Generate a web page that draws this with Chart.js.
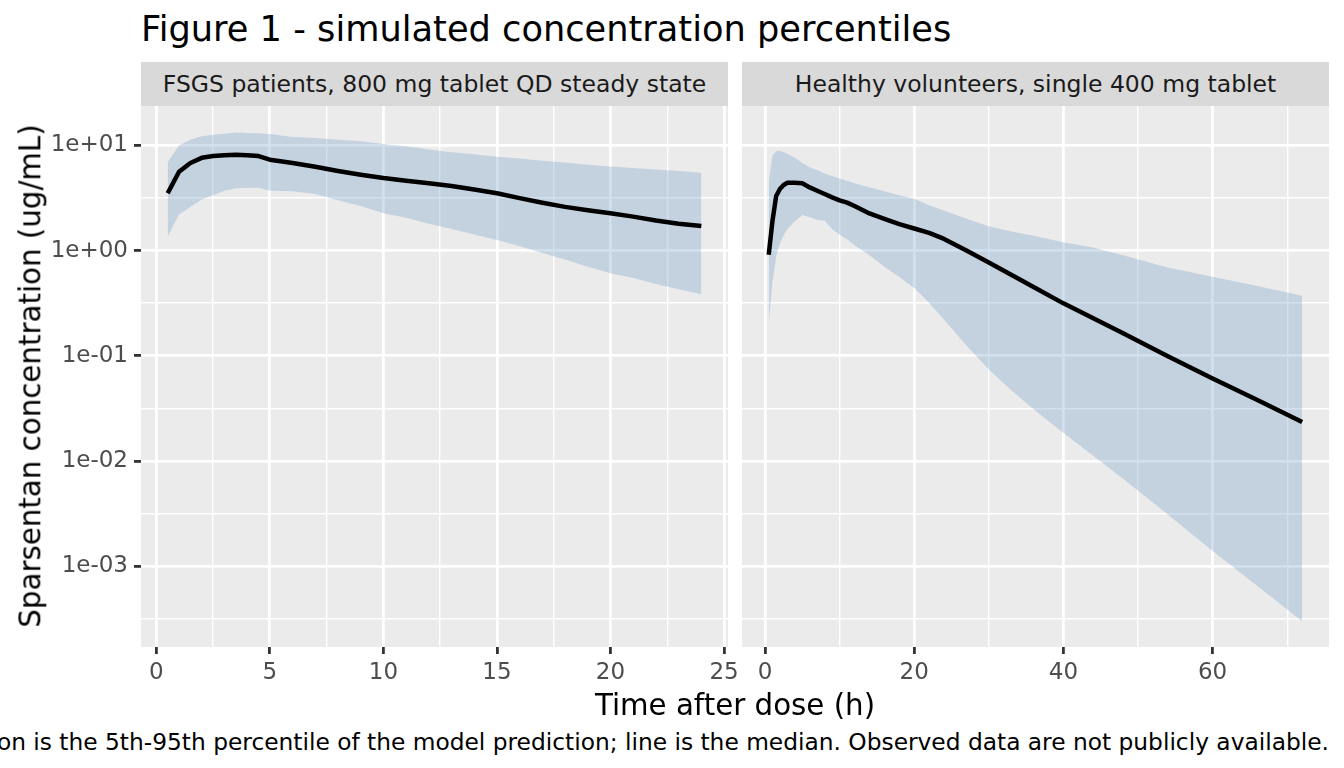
<!DOCTYPE html>
<html>
<head>
<meta charset="utf-8">
<script src="https://cdn.jsdelivr.net/npm/chart.js@4.4.1/dist/chart.umd.min.js"></script>
<style>
  body {
    margin: 0;
    width: 1344px;
    height: 768px;
    overflow: hidden;
    position: relative;
    background: #ffffff;
    font-family: "DejaVu Sans", sans-serif;
  }
  .abs { position: absolute; white-space: nowrap; }
  .panel { position: absolute; top: 106px; height: 600px; }
  #title { left: 141px; top: 11px; font-size: 35.2px; line-height: 35.2px; color: #000; }
  .strip {
    top: 62px; height: 44px; line-height: 44px;
    background: #d9d9d9; color: #1a1a1a;
    font-size: 23.5px; text-align: center;
  }
  #ytitle {
    left: 31px; top: 376px; font-size: 29.3px; line-height: 29.3px;
    transform: translate(-50%, -50%) rotate(-90deg);
  }
  #xtitle {
    left: 141px; width: 1188px; top: 691px; text-align: center;
    font-size: 29.3px; line-height: 29.3px;
  }
  #caption {
    right: 15px; top: 730px; text-align: right;
    font-size: 23.32px; line-height: 23.32px;
  }
</style>
</head>
<body>
<div class="panel" style="left:0;width:742px"><canvas id="fsgs" width="742" height="600"></canvas></div>
<div class="panel" style="left:742px;width:587px"><canvas id="healthy" width="587" height="600"></canvas></div>

<div id="title" class="abs">Figure 1 - simulated concentration percentiles</div>
<div class="abs strip" style="left:141px;width:587px">FSGS patients, 800 mg tablet QD steady state</div>
<div class="abs strip" style="left:742px;width:587px">Healthy volunteers, single 400 mg tablet</div>
<div id="ytitle" class="abs">Sparsentan concentration (ug/mL)</div>
<div id="xtitle" class="abs">Time after dose (h)</div>
<div id="caption" class="abs">Shaded region is the 5th-95th percentile of the model prediction; line is the median. Observed data are not publicly available.</div>

<script>
// FSGS patients, 800 mg QD steady state (ug/mL)
const fsgsTime = [0.5, 1, 1.5, 2, 2.5, 3, 3.5, 4, 4.5, 5, 6, 7, 8, 9, 10, 11, 12, 13, 14, 15, 16, 17, 18, 19, 20, 21, 22, 23, 24];
const fsgsMedian = [3.5, 5.6, 6.8, 7.6, 7.9, 8.05, 8.15, 8.05, 7.9, 7.3, 6.8, 6.25, 5.7, 5.25, 4.88, 4.6, 4.35, 4.1, 3.8, 3.5, 3.15, 2.85, 2.6, 2.42, 2.26, 2.1, 1.93, 1.8, 1.71];
const fsgsLower = [1.36, 2.2, 2.6, 3.05, 3.35, 3.7, 3.9, 3.95, 3.95, 3.7, 3.65, 3.45, 3.0, 2.65, 2.26, 2.05, 1.8, 1.6, 1.42, 1.26, 1.1, 0.95, 0.82, 0.7, 0.61, 0.55, 0.48, 0.43, 0.384];
const fsgsUpper = [6.9, 10.0, 11.3, 12.2, 12.6, 12.9, 13.2, 13.1, 13.0, 12.8, 12.0, 11.7, 11.3, 10.9, 10.3, 9.8, 9.1, 8.6, 8.2, 7.8, 7.5, 7.15, 6.85, 6.55, 6.3, 6.1, 5.9, 5.7, 5.5];

// Healthy volunteers, single 400 mg dose
const healthyTime = [0.5, 1, 1.5, 2, 2.5, 3, 4, 5, 6, 7, 8, 9, 10, 11, 12, 14, 16, 18, 20, 22, 24, 27, 30, 33, 36, 40, 44, 48, 54, 60, 66, 72];
const healthyMedian = [0.91, 1.9, 3.3, 3.85, 4.2, 4.4, 4.4, 4.35, 3.98, 3.7, 3.45, 3.2, 3.0, 2.85, 2.65, 2.25, 2.0, 1.78, 1.62, 1.47, 1.29, 1.0, 0.77, 0.59, 0.45, 0.315, 0.227, 0.164, 0.099, 0.061, 0.038, 0.0235];
const healthyLower = [0.2, 0.5, 0.88, 1.17, 1.4, 1.6, 1.9, 2.18, 2.07, 1.95, 1.92, 1.6, 1.41, 1.28, 1.12, 0.9, 0.7, 0.56, 0.44, 0.32, 0.22, 0.125, 0.074, 0.047, 0.031, 0.0185, 0.0112, 0.0068, 0.0031, 0.0014, 0.00065, 0.0003];
const healthyUpper = [4.5, 8.0, 8.8, 8.9, 8.6, 8.3, 7.6, 6.8, 6.2, 5.8, 5.4, 5.1, 4.85, 4.6, 4.35, 4.0, 3.65, 3.35, 3.1, 2.7, 2.4, 2.0, 1.7, 1.52, 1.38, 1.2, 1.07, 0.9, 0.69, 0.565, 0.46, 0.372];

// axis breaks
const fsgsXTicks = [0, 5, 10, 15, 20, 25];
const fsgsXMinor = [2.5, 7.5, 12.5, 17.5, 22.5];
const healthyXTicks = [0, 20, 40, 60];
const healthyXMinor = [10, 30, 50, 70];
const yTicks = [1e-3, 1e-2, 1e-1, 1, 10];
const yMinor = [-3.5, -2.5, -1.5, -0.5, 0.5].map(e => Math.pow(10, e));

Chart.defaults.font.family = '"DejaVu Sans", sans-serif';

const panelBackground = {
  id: 'panelBackground',
  beforeDraw(chart) {
    const { ctx, chartArea: a } = chart;
    ctx.save();
    ctx.fillStyle = '#ebebeb';
    ctx.fillRect(a.left, a.top, a.right - a.left, a.bottom - a.top);
    ctx.restore();
  }
};

const points = (xs, ys) => xs.map((x, i) => ({ x: x, y: ys[i] }));
const sci = v => {
  const e = Math.round(Math.log10(v));
  return '1e' + (e < 0 ? '-' : '+') + String(Math.abs(e)).padStart(2, '0');
};
const isMajorY = v => Math.abs(Math.log10(v) - Math.round(Math.log10(v))) < 1e-6;

// fixed axis sizes and no label overhang padding, so the panels line up
function fixSize(s, w, h) {
  if (w !== null) s.width = w;
  if (h !== null) s.height = h;
  s.paddingLeft = s.paddingRight = s.paddingTop = s.paddingBottom = 0;
}

function makePanel(id, time, median, lower, upper, xMin, xMax, xTicks, xMinor, showY, padRight) {
  const ribbon = 'rgba(105,152,198,0.3)';
  return new Chart(document.getElementById(id), {
    type: 'line',
    data: {
      datasets: [
        { data: points(time, median), borderColor: '#000', borderWidth: 4.5, pointRadius: 0, fill: false, tension: 0, borderJoinStyle: 'round' },
        { data: points(time, lower), borderColor: 'transparent', borderWidth: 0, pointRadius: 0, fill: false },
        { data: points(time, upper), borderColor: 'transparent', borderWidth: 0, pointRadius: 0, fill: '-1', backgroundColor: ribbon }
      ]
    },
    options: {
      responsive: false,
      animation: false,
      events: [],
      layout: { padding: { left: 0, top: 0, bottom: 0, right: padRight }, autoPadding: false },
      plugins: { legend: { display: false }, tooltip: { enabled: false } },
      scales: {
        x: {
          type: 'linear',
          min: xMin,
          max: xMax,
          afterBuildTicks: s => { s.ticks = xTicks.concat(xMinor).sort((a, b) => a - b).map(v => ({ value: v })); },
          afterFit: s => fixSize(s, null, 59),
          border: { display: false },
          grid: {
            color: '#ffffff',
            lineWidth: c => xTicks.includes(c.tick.value) ? 2.8 : 1.4,
            tickLength: 7,
            tickWidth: 2.8,
            tickColor: c => xTicks.includes(c.tick.value) ? '#333333' : 'rgba(0,0,0,0)'
          },
          ticks: {
            autoSkip: false,
            maxRotation: 0,
            padding: 5,
            color: '#4d4d4d',
            font: { size: 23 },
            callback: v => xTicks.includes(v) ? String(v) : ''
          }
        },
        y: {
          type: 'logarithmic',
          min: Math.pow(10, -3.7667),
          max: Math.pow(10, 1.3734),
          afterBuildTicks: s => { s.ticks = yTicks.concat(yMinor).sort((a, b) => a - b).map(v => ({ value: v })); },
          afterFit: s => fixSize(s, showY ? 141 : 0, null),
          border: { display: false },
          grid: {
            color: '#ffffff',
            lineWidth: c => isMajorY(c.tick.value) ? 2.8 : 1.4,
            drawTicks: showY,
            tickLength: 7,
            tickWidth: 2.8,
            tickColor: c => isMajorY(c.tick.value) ? '#333333' : 'rgba(0,0,0,0)'
          },
          ticks: {
            display: showY,
            padding: 6,
            color: '#4d4d4d',
            font: { size: 23 },
            callback: v => isMajorY(v) ? sci(v) : ''
          }
        }
      }
    },
    plugins: [panelBackground]
  });
}

makePanel('fsgs', fsgsTime, fsgsMedian, fsgsLower, fsgsUpper, -0.675, 25.175, fsgsXTicks, fsgsXMinor, true, 14);
makePanel('healthy', healthyTime, healthyMedian, healthyLower, healthyUpper, -3.08, 75.6, healthyXTicks, healthyXMinor, false, 0);
</script>
</body>
</html>
